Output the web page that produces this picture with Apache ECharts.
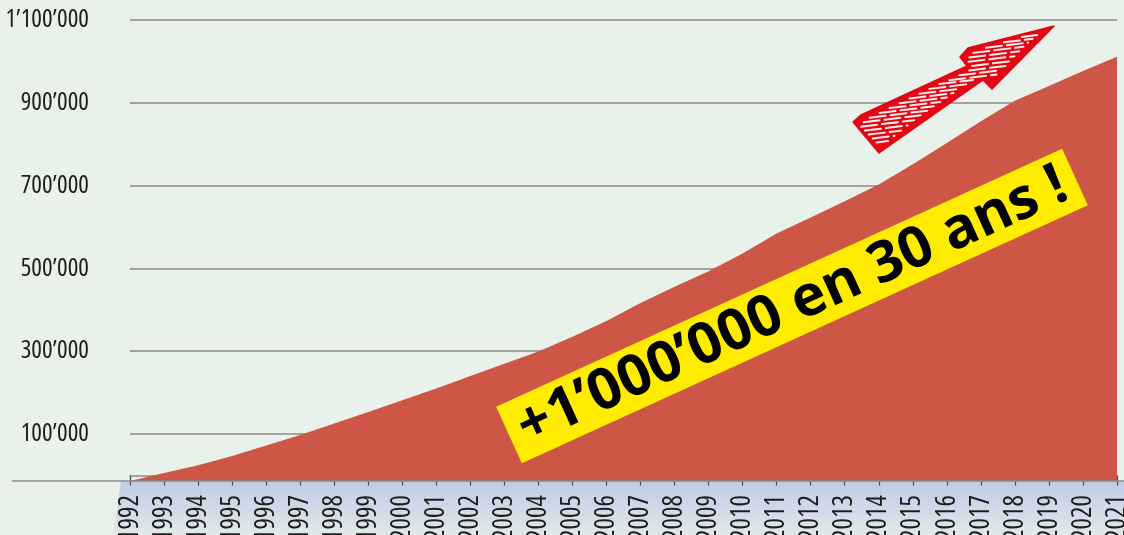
<!DOCTYPE html>
<html>
<head>
<meta charset="utf-8">
<script src="https://cdn.jsdelivr.net/npm/echarts@6/dist/echarts.min.js"></script>
<style>
html,body{margin:0;padding:0;background:#e8f2eb;}
#chart{width:1124px;height:535px;}
</style>
</head>
<body>
<div id="chart"></div>
<script>
// ---- data ----
var years = ['1992','1993','1994','1995','1996','1997','1998','1999','2000','2001','2002','2003','2004','2005','2006','2007','2008','2009','2010','2011','2012','2013','2014','2015','2016','2017','2018','2019','2020','2021'];
var values = [-13500, 5600, 24700, 47100, 72500, 97800, 125400, 153000, 181400, 210000, 240000, 269800, 299500, 334700, 372900, 416400, 455500, 492900, 535900, 584400, 623100, 662400, 702500, 751600, 803200, 855600, 905000, 940800, 976600, 1011000];
var yTicks = [100000, 300000, 500000, 700000, 900000, 1100000];
var bannerText = '+1\u2019000\u2019000 en 30 ans !';

function fmt(v){
  var s = String(Math.round(v));
  var out = '';
  while (s.length > 3) { out = '\u2019' + s.slice(-3) + out; s = s.slice(0, -3); }
  return s + out;
}

var fam = '"Open Sans", "Noto Sans", sans-serif';

// hand-drawn arrow (decoration)
var arrowPts = [[853, 122], [879, 153], [983, 80], [992, 89], [1054, 26], [968, 48], [960, 57], [967, 66], [861, 115]];
var hatch = [];
(function(){
  var ang = 7 * Math.PI / 180;
  for (var y = 36; y <= 146; y += 4.6) {
    var xs = [];
    for (var i = 0; i < arrowPts.length; i++) {
      var p = arrowPts[i], q = arrowPts[(i + 1) % arrowPts.length];
      if ((p[1] <= y && q[1] > y) || (q[1] <= y && p[1] > y)) {
        xs.push(p[0] + (y - p[1]) * (q[0] - p[0]) / (q[1] - p[1]));
      }
    }
    xs.sort(function(a, b){ return a - b; });
    for (var k = 0; k + 1 < xs.length; k += 2) {
      var a = xs[k] + 7, b = xs[k + 1] - 7;
      if (b - a < 6) continue;
      var h = (b - a) / 2 * Math.tan(ang);
      hatch.push({
        type: 'line', z: 101, silent: true,
        shape: { x1: a, y1: y + h, x2: b, y2: y - h },
        style: { stroke: '#ffffff', lineWidth: 2, opacity: 0.92, lineCap: 'round', lineDash: [16, 5] }
      });
    }
  }
})();

var chart = echarts.init(document.getElementById('chart'), null, {renderer: 'canvas'});
var rot = 24.5 * Math.PI / 180;

chart.setOption({
  backgroundColor: '#e8f2eb',
  animation: false,
  grid: { left: 130, right: 7, top: 20, bottom: 54, containLabel: false, outerBoundsMode: 'none' },
  xAxis: {
    type: 'category',
    data: years,
    boundaryGap: false,
    axisLine: { show: true, lineStyle: { color: '#8c8c8c', width: 1.5 } },
    axisTick: { show: true, length: 10, lineStyle: { color: '#4a4a4a', width: 1.2 } },
    axisLabel: {
      rotate: 90, margin: 14, interval: 0,
      fontFamily: fam, fontStyle: 'condensed', fontSize: 27, color: '#1d1d1b'
    },
    splitLine: { show: false }
  },
  yAxis: {
    type: 'value',
    min: -13500,
    max: 1100000,
    axisLine: { show: false },
    axisTick: { show: false, customValues: yTicks },
    axisLabel: {
      customValues: yTicks,
      margin: 41,
      fontFamily: fam, fontStyle: 'condensed', fontSize: 25, color: '#1d1d1b',
      formatter: function(v){ return fmt(v); }
    },
    splitLine: { show: true, lineStyle: { color: '#8a8a8a', width: 1.5 } }
  },
  series: [{
    type: 'line',
    data: values,
    symbol: 'none',
    smooth: false,
    lineStyle: { width: 0 },
    areaStyle: { color: '#cd5646', opacity: 1, origin: 'start' },
    z: 3
  }],
  graphic: [
    { type: 'polygon', z: -10, silent: true,
      shape: { points: [[121, 481], [1124, 481], [1124, 535], [113, 535]] },
      style: { fill: new echarts.graphic.LinearGradient(0, 0, 0, 1, [
        { offset: 0, color: '#bfcbe7' }, { offset: 1, color: '#e0e9ea' }]) } },
    { type: 'line', z: 50, silent: true,
      shape: { x1: 12, y1: 481, x2: 1124, y2: 481 },
      style: { stroke: '#8c8c8c', lineWidth: 1.5 } },
    { type: 'group', x: 792, y: 306, rotation: rot, z: 100, children: [
      { type: 'rect', z: 100, shape: { x: -311, y: -31, width: 622, height: 62 },
        style: { fill: '#ffec00' } },
      { type: 'text', z: 101, x: 0, y: 1,
        style: { text: bannerText, x: 0, y: 0, align: 'center', verticalAlign: 'middle',
          fill: '#000000', font: 'bold 57px "Open Sans", "Noto Sans", sans-serif' } }
    ]},
    { type: 'polygon', z: 100, silent: true,
      shape: { points: arrowPts },
      style: { fill: '#e30613', stroke: '#e30613', lineWidth: 1.5, lineJoin: 'round' } }
  ].concat(hatch)
});
</script>
</body>
</html>
